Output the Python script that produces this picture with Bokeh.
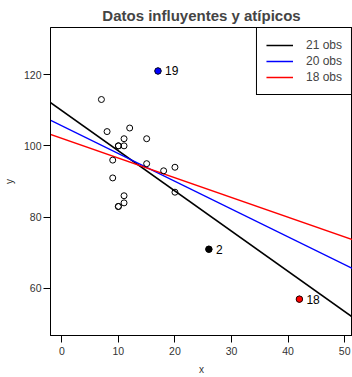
import numpy as np
from bokeh.plotting import figure
from bokeh.models import Range1d, FixedTicker, Legend, LegendItem, ColumnDataSource
from bokeh.core.properties import value
from bokeh.embed import file_html
from bokeh.resources import INLINE

# Gesell data (edad primera palabra, puntuación)
x_vals = [15, 26, 10, 9, 15, 20, 18, 11, 8, 20, 7, 9, 10, 11, 11, 10, 12, 42, 17, 11, 10]
y_vals = [95, 71, 83, 91, 102, 87, 93, 100, 104, 94, 113, 96, 83, 84, 102, 100, 105, 57, 121, 86, 100]
highlight_ids = [19, 2, 18]            # 1-based observation numbers
highlight_colors = ["blue", "black", "red"]
fit_labels = ["21 obs", "20 obs", "18 obs"]
fit_colors = ["black", "blue", "red"]
fit_excluded = [[], [18], [2, 18, 19]]
x_ticks = [0, 10, 20, 30, 40, 50]
y_ticks = [60, 80, 100, 120]

FONT = "Liberation Sans"

p = figure(width=352, height=377, output_backend="svg", toolbar_location=None,
           x_range=Range1d(-2, 51.39), y_range=Range1d(46.8, 133.2),
           min_border_left=48, min_border_right=0, min_border_bottom=42, min_border_top=0)
p.title.text = "Datos influyentes y atípicos"
p.title.align = "center"
p.title.offset = 2
p.title.text_font = FONT
p.title.text_font_size = "15px"
p.title.text_font_style = "bold"
p.title.standoff = 8
p.grid.visible = False
p.outline_line_color = "black"
p.outline_line_width = 1
p.background_fill_color = "white"
p.border_fill_color = "white"

for ax in (p.xaxis[0], p.yaxis[0]):
    ax.major_tick_out = 7
    ax.major_tick_in = 0
    ax.minor_tick_out = 0
    ax.minor_tick_in = 0
    ax.axis_line_color = "black"
    ax.major_tick_line_color = "black"
    ax.major_label_text_font = FONT
    ax.major_label_text_font_size = "10.5px"
    ax.major_label_text_color = "#333333"
    ax.axis_label_text_font = FONT
    ax.axis_label_text_font_size = "10px"
    ax.axis_label_text_font_style = "normal"
    ax.axis_label_text_color = "#333333"
p.xaxis.ticker = FixedTicker(ticks=x_ticks)
p.yaxis.ticker = FixedTicker(ticks=y_ticks)
p.xaxis.axis_label = "x"
p.yaxis.axis_label = "y"
p.xaxis.major_label_standoff = 4
p.yaxis.major_label_standoff = 2
p.xaxis.axis_label_standoff = 6
p.yaxis.axis_label_standoff = 6

xa = np.array(x_vals, dtype=float)
ya = np.array(y_vals, dtype=float)

items = []
line_x = np.array([-10.0, 70.0])
for lab, col, exc in zip(fit_labels, fit_colors, fit_excluded):
    mask = np.ones(len(xa), dtype=bool)
    for e in exc:
        mask[e - 1] = False
    b, a = np.polyfit(xa[mask], ya[mask], 1)
    r = p.line(line_x, a + b * line_x, line_color=col, line_width=1.5)
    items.append(LegendItem(label=lab, renderers=[r]))

# all points, open circles
p.scatter(x_vals, y_vals, size=6, marker="circle", fill_color=None,
          line_color="black", line_width=1)

# highlighted points
hx = [x_vals[i - 1] for i in highlight_ids]
hy = [y_vals[i - 1] for i in highlight_ids]
src = ColumnDataSource(dict(x=hx, y=hy, c=highlight_colors,
                            t=[str(i) for i in highlight_ids]))
p.scatter("x", "y", source=src, size=6.5, marker="circle", fill_color="c",
          line_color="black", line_width=0.8)
p.text("x", "y", text="t", source=src, x_offset=7, text_baseline="middle",
       text_align="left", text_font=value(FONT), text_font_size="12px",
       text_color="black")

legend = Legend(items=items, location="top_right", margin=0, padding=9,
                spacing=0, label_height=16, glyph_height=16, glyph_width=27,
                label_standoff=13, label_text_font=FONT,
                label_text_font_size="12px", border_line_color="black",
                border_line_width=1, border_line_alpha=1.0,
                background_fill_color="white", background_fill_alpha=1)
p.add_layout(legend, "center")

open("out.html", "w").write(file_html(p, INLINE))
